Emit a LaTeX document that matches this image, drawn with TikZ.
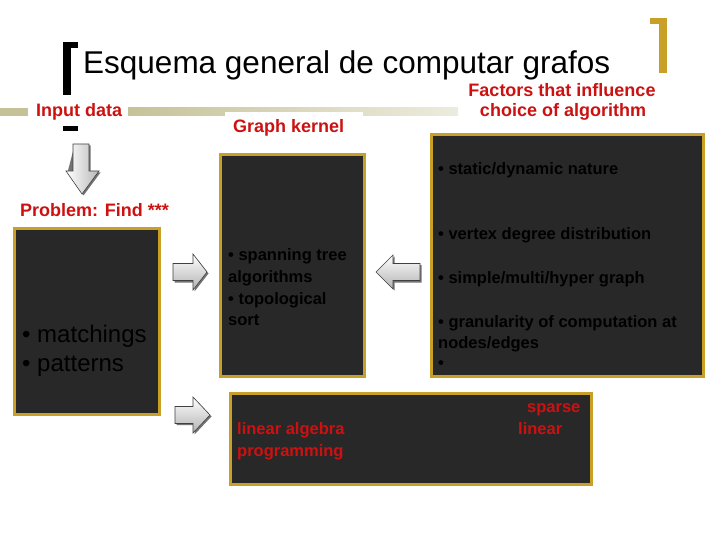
\documentclass[tikz,border=0pt]{standalone}
\usepackage{fontspec}
\setmainfont{Liberation Sans}
\definecolor{redc}{RGB}{205,17,17}
\definecolor{goldc}{RGB}{200,160,40}
\definecolor{boxc}{RGB}{40,40,40}
\definecolor{khaki}{RGB}{198,194,152}
\definecolor{khakilight}{RGB}{236,236,222}
\tikzset{
  lbl/.style={text=redc, font=\bfseries\fontsize{18}{20}\selectfont, inner sep=0},
  bigbox/.style={draw=goldc, line width=3pt, fill=boxc, inner sep=0},
  ktext/.style={font=\bfseries\fontsize{16.5}{19}\selectfont, text=black, inner sep=0, anchor=base west},
  rtext/.style={font=\bfseries\fontsize{16.5}{19}\selectfont, text=redc, inner sep=0, anchor=base west},
  ltext/.style={font=\fontsize{24}{28}\selectfont, text=black, inner sep=0, anchor=base west},
  arrshadow/.style={fill=black!55},
  arrbody/.style={draw=black!75, line width=0.6pt},
}
\begin{document}
\begin{tikzpicture}[x=1pt,y=-1pt]
\useasboundingbox (0,0) rectangle (720,540);
\fill[white] (0,0) rectangle (720,540);

% khaki rule
\fill[khaki] (0,108) rectangle (28,116);
\shade[left color=khaki, right color=khakilight] (128,108) rectangle (458,116);
\fill[white] (225,112) rectangle (363,145);

% brackets
\fill[black] (63,42) rectangle (71,95);
\fill[black] (63,42) rectangle (78,48);
\fill[black] (63,126) rectangle (78,131);
\fill[goldc] (650,18) rectangle (667,24);
\fill[goldc] (659,18) rectangle (667,73);

% title and labels
\node[anchor=base west, inner sep=0, font=\fontsize{31.5}{36}\selectfont] (title) at (83,74) {Esquema general de computar grafos};
\node[lbl, anchor=base west] (input) at (36,117) {Input data};
\node[lbl, anchor=base west] (kernel) at (233,133) {Graph kernel};
\node[lbl, anchor=base] (factors1) at (562,97) {Factors that influence};
\node[lbl, anchor=base] (factors2) at (563,117) {choice of algorithm};
\node[lbl, anchor=base west] (problem) at (20,217) {Problem: Find ***};

% boxes
\node[bigbox, minimum width=145pt, minimum height=186pt] (b1) at (87,321.5) {};
\node[bigbox, minimum width=144pt, minimum height=222pt] (b2) at (292.5,265.5) {};
\node[bigbox, minimum width=272pt, minimum height=242pt] (b3) at (567.5,255.5) {};
\node[bigbox, minimum width=361pt, minimum height=91pt] (b4) at (411,439) {};

% box 1 text
\node[ltext] (m1) at (22,342) {• matchings};
\node[ltext] (m2) at (22,371) {• patterns};

% box 2 text
\node[ktext] (k1) at (228,260) {• spanning tree};
\node[ktext] (k2) at (228,282) {algorithms};
\node[ktext] (k3) at (228,304) {• topological};
\node[ktext] (k4) at (228,325) {sort};

% box 3 text
\node[ktext] (f1) at (438,175) {• static/dynamic nature};
\node[ktext] (f2) at (438,240) {• vertex degree distribution};
\node[ktext] (f3) at (438,283) {• simple/multi/hyper graph};
\node[ktext] (f4) at (438,327) {• granularity of computation at};
\node[ktext] (f5) at (438,348) {nodes/edges};
\node[ktext] (f6) at (438,368) {•};

% box 4 text
\node[rtext] (r1) at (237,434) {linear algebra};
\node[rtext] (r2) at (237,456) {programming};
\node[rtext] (r3) at (527,412) {sparse};
\node[rtext] (r4) at (518,434) {linear};

% down arrow
\fill[arrshadow] (74.5,145.5) -- (90.5,145.5) -- (90.5,172.5) -- (100.5,172.5) -- (83.5,195.5) -- (67.5,172.5) -- cycle;
\shade[arrbody, left color=white, right color=black!28] (73,144) -- (89,144) -- (89,171) -- (99,171) -- (82,194) -- (66,171) -- (73,171) -- cycle;

% right arrow 1
\fill[arrshadow] (174.5,265) -- (194.5,265) -- (194.5,256) -- (208.5,273.5) -- (194.5,291.5) -- (194.5,282.5) -- (174.5,282.5) -- cycle;
\shade[arrbody, top color=white, bottom color=black!30] (173,263.5) -- (193,263.5) -- (193,254) -- (207,272) -- (193,290) -- (193,280.5) -- (173,280.5) -- cycle;

% left arrow
\fill[arrshadow] (377.5,273.5) -- (394.5,256.5) -- (394.5,265) -- (421.5,265) -- (421.5,282.5) -- (394.5,282.5) -- (394.5,290.5) -- cycle;
\shade[arrbody, top color=white, bottom color=black!30] (376,272) -- (393,255) -- (393,263.5) -- (420,263.5) -- (420,280.5) -- (393,280.5) -- (393,289) -- cycle;

% right arrow 2
\fill[arrshadow] (176.5,408) -- (194.5,408) -- (194.5,398.5) -- (211.5,416.5) -- (194.5,434.5) -- (194.5,425) -- (176.5,425) -- cycle;
\shade[arrbody, top color=white, bottom color=black!30] (175,406.5) -- (193,406.5) -- (193,397) -- (210,415) -- (193,433) -- (193,423.5) -- (175,423.5) -- cycle;
\end{tikzpicture}
\end{document}
